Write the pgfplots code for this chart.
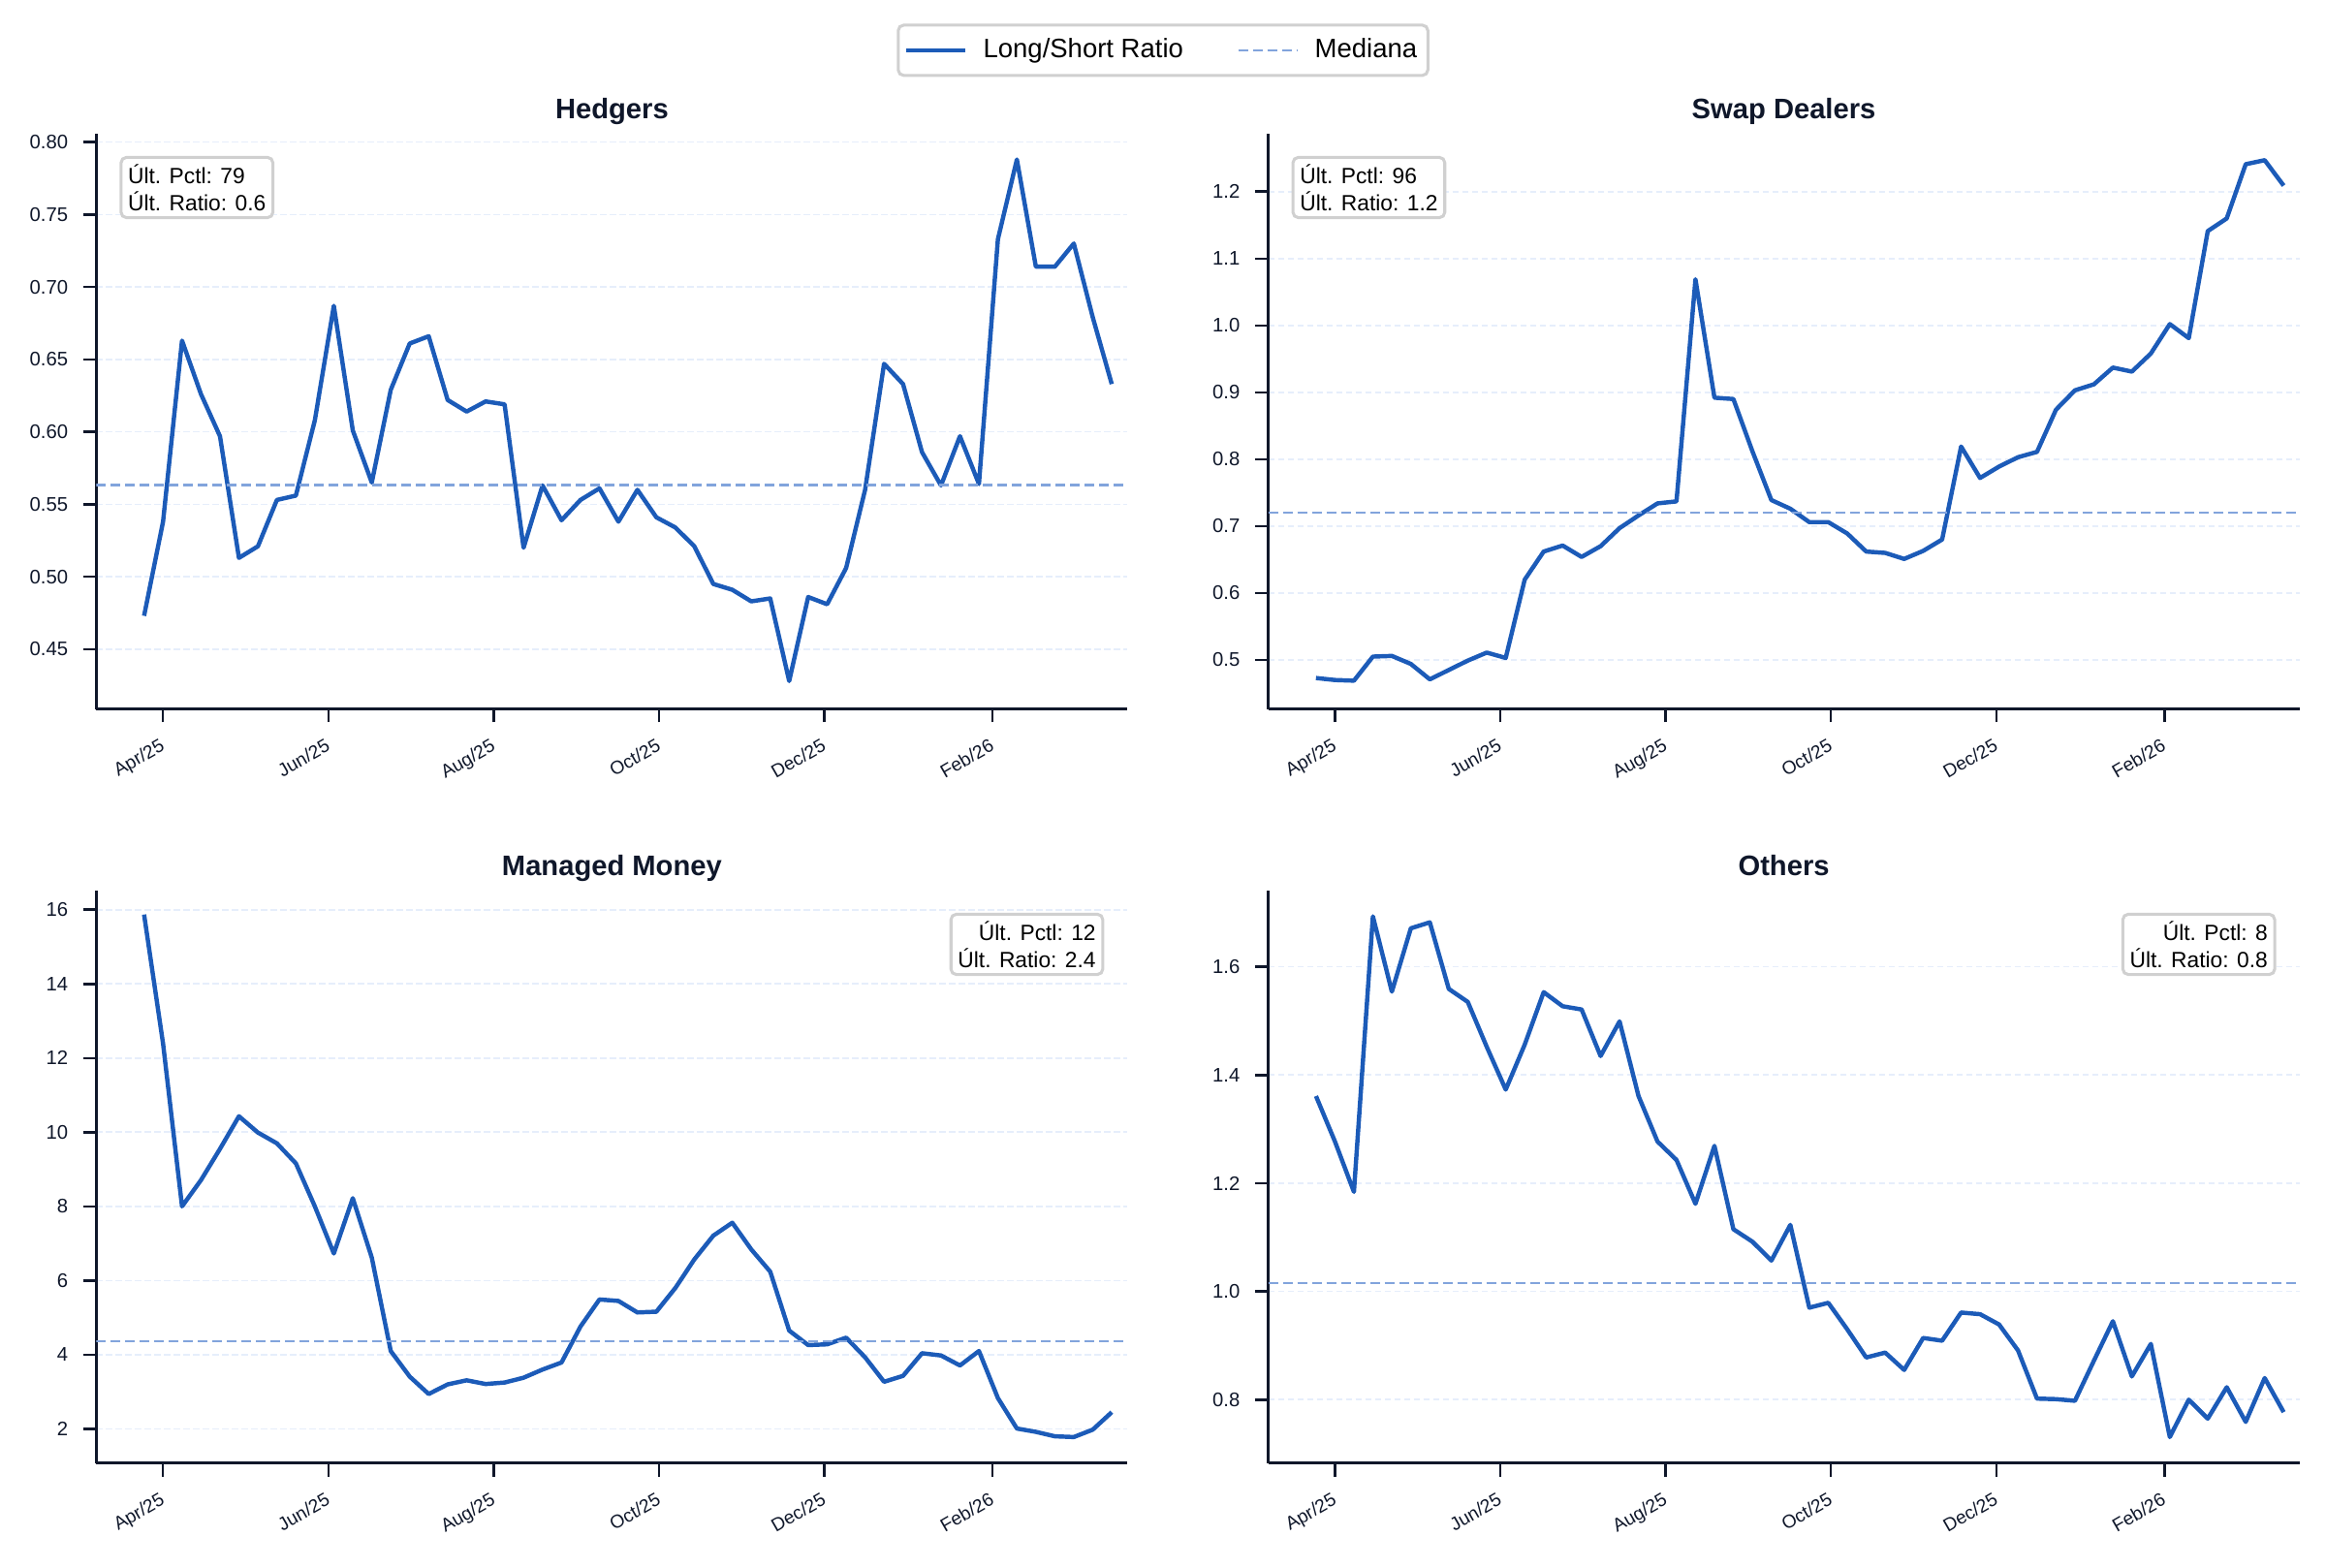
\documentclass[border=0pt]{standalone}
\usepackage{pgfplots}
\pgfplotsset{compat=1.18}
\usepackage{pgfplotstable}
\usepackage{fontspec}
\setmainfont{Liberation Sans}
\setsansfont{Liberation Sans}
\definecolor{lineblue}{RGB}{28,91,184}
\definecolor{medblue}{RGB}{130,164,220}
\definecolor{gridblue}{RGB}{230,238,251}
\definecolor{navy}{RGB}{15,23,42}
\definecolor{boxgray}{RGB}{208,208,208}

\pgfplotstableread{
day h s m o
0 0.473 0.473 15.87 1.361
7 0.538 0.470 12.39 1.277
14 0.663 0.469 8.00 1.184
21 0.626 0.505 8.71 1.693
28 0.597 0.506 9.55 1.554
35 0.513 0.494 10.43 1.671
42 0.521 0.471 9.99 1.682
49 0.553 0.485 9.70 1.559
56 0.556 0.499 9.16 1.535
63 0.608 0.511 8.00 1.452
70 0.687 0.503 6.73 1.373
77 0.601 0.620 8.22 1.456
84 0.565 0.662 6.62 1.553
91 0.629 0.671 4.10 1.527
98 0.661 0.654 3.41 1.521
105 0.666 0.670 2.94 1.435
112 0.622 0.697 3.20 1.499
119 0.614 0.716 3.31 1.361
126 0.621 0.734 3.21 1.277
133 0.619 0.737 3.25 1.243
140 0.520 1.069 3.38 1.162
147 0.563 0.892 3.60 1.269
154 0.539 0.890 3.79 1.115
161 0.553 0.812 4.76 1.092
168 0.561 0.739 5.49 1.057
175 0.538 0.726 5.45 1.123
182 0.560 0.706 5.14 0.970
189 0.541 0.706 5.16 0.979
196 0.534 0.689 5.80 0.930
203 0.521 0.662 6.57 0.878
210 0.495 0.660 7.21 0.887
217 0.491 0.651 7.56 0.855
224 0.483 0.663 6.84 0.914
231 0.485 0.680 6.24 0.909
238 0.428 0.819 4.65 0.961
245 0.486 0.772 4.26 0.958
252 0.481 0.789 4.28 0.939
259 0.506 0.803 4.46 0.891
266 0.560 0.811 3.93 0.802
273 0.647 0.874 3.27 0.801
280 0.633 0.903 3.43 0.798
287 0.586 0.912 4.04 0.872
294 0.563 0.937 3.98 0.945
301 0.597 0.931 3.71 0.843
308 0.564 0.958 4.10 0.903
315 0.733 1.002 2.83 0.731
322 0.788 0.981 2.01 0.800
329 0.714 1.141 1.92 0.765
336 0.714 1.160 1.80 0.823
343 0.730 1.241 1.78 0.759
350 0.679 1.247 1.98 0.840
357 0.633 1.209 2.45 0.777
}\cotdata

\tikzset{
  infobox/.style={draw=boxgray, line width=1.1pt, rounded corners=2pt, fill=white, inner sep=2.6pt, font=\fontsize{8.2}{10}\selectfont, text=black},
}
\pgfplotsset{
  cotstyle/.style={
    scale only axis, width=383pt, height=213.8pt,
    xmin=-17.6, xmax=362.8,
    axis x line*=bottom, axis y line*=left,
    axis line style={line width=1.1pt, navy, -},
    xtick={7,68,129,190,251,313},
    xticklabels={Apr/25,Jun/25,Aug/25,Oct/25,Dec/25,Feb/26},
    tick align=outside, major tick length=5pt,
    tick style={line width=0.9pt, navy},
    x tick label style={rotate=30, anchor=north east, font=\fontsize{6.9}{7.5}\selectfont, text=navy, inner sep=1pt, xshift=-3pt, yshift=-3pt},
    y tick label style={font=\fontsize{7.3}{8}\selectfont, text=navy, xshift=-2pt},
    ymajorgrids,
    grid style={gridblue, line width=0.6pt, dash pattern=on 2.2pt off 1.4pt},
    title style={font=\bfseries\fontsize{10.5}{12}\selectfont, text=navy, at={(0.5,1)}, anchor=base, yshift=-0.5pt},
    /pgf/number format/assume math mode=true,
  },
  ratio/.style={lineblue, line width=1.6pt, no markers, line join=round},
  med/.style={medblue, line width=0.85pt, dash pattern=on 3.6pt off 1.8pt, no markers},
}

\begin{document}
\begin{tikzpicture}
\useasboundingbox (0,0) rectangle (864pt,582.48pt);

% Hedgers
\begin{axis}[cotstyle, at={(35.8pt,319.1pt)}, anchor=south west,
  title={Hedgers},
  ymin=0.4087, ymax=0.806,
  ytick={0.45,0.50,0.55,0.60,0.65,0.70,0.75,0.80},
  yticklabel style={/pgf/number format/.cd, fixed, fixed zerofill, precision=2},
  legend columns=2,
  legend style={at={(1.0345,1.1445)}, anchor=center, draw=boxgray, line width=1.1pt,
    rounded corners=2pt, font=\fontsize{9.9}{11}\selectfont, text=black,
    inner xsep=2pt, inner ysep=3pt,
    /tikz/every even column/.append style={column sep=18pt}},
  legend image code/.code={\draw[#1] (0pt,0pt) -- (22pt,0pt); \path (26pt,0pt);},
]
\addplot[ratio] table[x=day, y=h] {\cotdata};
\addlegendentry{Long/Short Ratio}
\addplot[med] coordinates {(-17.6,0.5634) (362.8,0.5634)};
\addlegendentry{Mediana}
\node[infobox, anchor=north west, align=left] at (rel axis cs:0.0225,0.961) {Últ. Pctl: 79\\Últ. Ratio: 0.6};
\end{axis}

% Swap Dealers
\begin{axis}[cotstyle, at={(471.1pt,319.1pt)}, anchor=south west,
  title={Swap Dealers},
  ymin=0.4267, ymax=1.287,
  ytick={0.5,0.6,0.7,0.8,0.9,1.0,1.1,1.2},
  yticklabel style={/pgf/number format/.cd, fixed, fixed zerofill, precision=1},
]
\addplot[ratio] table[x=day, y=s] {\cotdata};
\addplot[med] coordinates {(-17.6,0.720) (362.8,0.720)};
\node[infobox, anchor=north west, align=left] at (rel axis cs:0.0225,0.961) {Últ. Pctl: 96\\Últ. Ratio: 1.2};
\end{axis}

% Managed Money
\begin{axis}[cotstyle, at={(35.8pt,39.0pt)}, anchor=south west, height=212.7pt,
  title={Managed Money},
  ymin=1.08, ymax=16.52,
  ytick={2,4,6,8,10,12,14,16},
]
\addplot[ratio] table[x=day, y=m] {\cotdata};
\addplot[med] coordinates {(-17.6,4.36) (362.8,4.36)};
\node[infobox, anchor=north east, align=right] at (rel axis cs:0.9775,0.961) {Últ. Pctl: 12\\Últ. Ratio: 2.4};
\end{axis}

% Others
\begin{axis}[cotstyle, at={(471.1pt,39.0pt)}, anchor=south west, height=212.7pt,
  title={Others},
  ymin=0.683, ymax=1.741,
  ytick={0.8,1.0,1.2,1.4,1.6},
  yticklabel style={/pgf/number format/.cd, fixed, fixed zerofill, precision=1},
]
\addplot[ratio] table[x=day, y=o] {\cotdata};
\addplot[med] coordinates {(-17.6,1.016) (362.8,1.016)};
\node[infobox, anchor=north east, align=right] at (rel axis cs:0.9775,0.961) {Últ. Pctl: 8\\Últ. Ratio: 0.8};
\end{axis}
\end{tikzpicture}
\end{document}
